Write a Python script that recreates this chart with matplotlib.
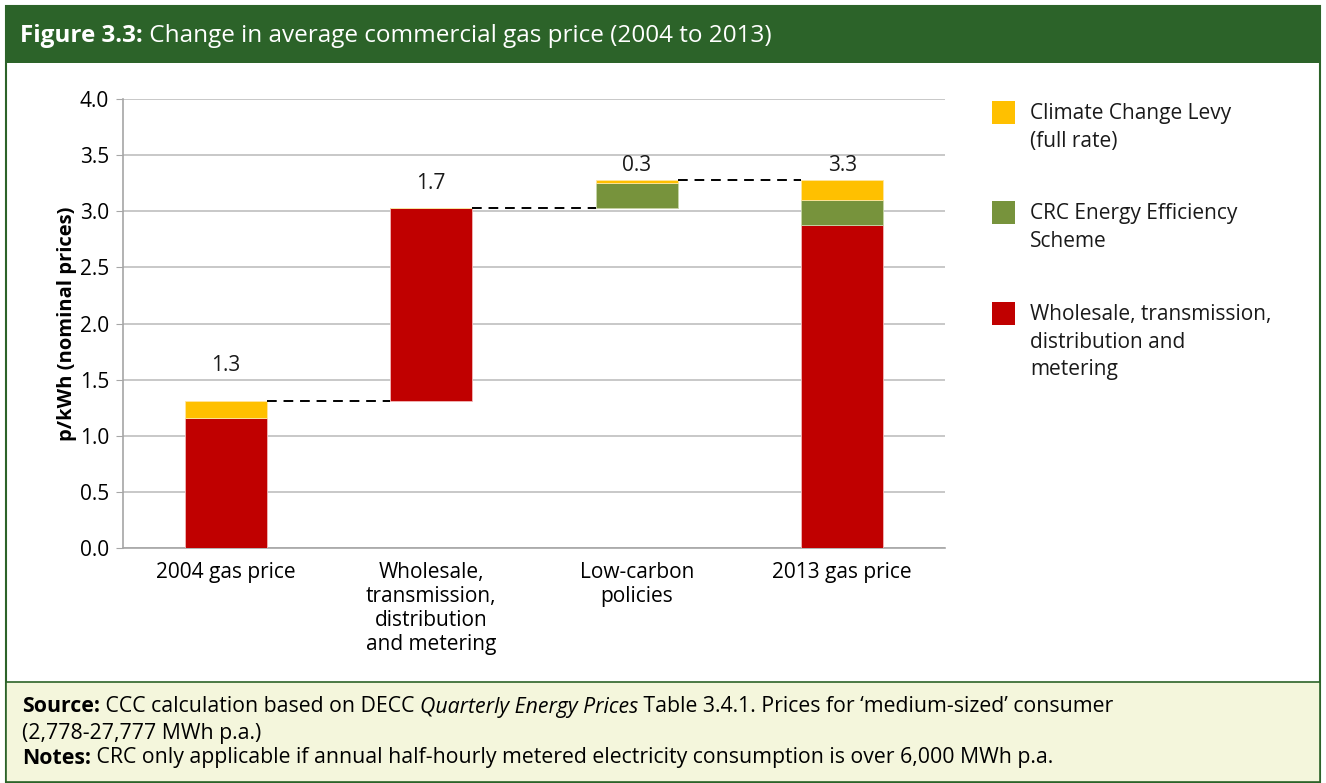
import matplotlib
matplotlib.use('Agg')
from matplotlib import pyplot as plt
from matplotlib.patches import Rectangle
import numpy as np

plt.rcParams['font.family'] = ['Open Sans', 'DejaVu Sans']

#======+
# Data |
#======+
categories = ['2004 gas price', 'Wholesale,\ntransmission,\ndistribution\nand metering',
              'Low-carbon\npolicies', '2013 gas price']
base = [0.0, 1.31, 3.03, 0.0]          # invisible offset of each waterfall bar
wholesale = [1.16, 1.72, 0.0, 2.88]
crc = [0.0, 0.0, 0.22, 0.22]
ccl = [0.15, 0.0, 0.03, 0.18]
bar_labels = ['1.3', '1.7', '0.3', '3.3']
label_y = [1.63, 3.25, 3.41, 3.41]     # where the value labels sit in the original
legend_names = ['Climate Change Levy\n(full rate)', 'CRC Energy Efficiency\nScheme',
                'Wholesale, transmission,\ndistribution and\nmetering']

RED, GREEN, YELLOW = '#c00000', '#77933c', '#ffc000'
HEAD_GREEN = '#2c6329'

W, H = 1326, 783
fig = plt.figure(figsize=(W / 100, H / 100), dpi=100)

def fx(px):
    return px / W

def fy(py):
    return 1 - py / H

#==================+
# Frame and bands  |
#==================+
fig.patches.append(Rectangle((fx(6), fy(782)), fx(1320) - fx(6), fy(6) - fy(782),
                             transform=fig.transFigure, facecolor='white',
                             edgecolor=HEAD_GREEN, lw=1.5, zorder=-2))
fig.patches.append(Rectangle((fx(6), fy(63)), fx(1320) - fx(6), fy(6) - fy(63),
                             transform=fig.transFigure, facecolor=HEAD_GREEN,
                             edgecolor='none', zorder=-1))
fig.patches.append(Rectangle((fx(6), fy(782)), fx(1320) - fx(6), fy(682) - fy(782),
                             transform=fig.transFigure, facecolor='#f4f6dc',
                             edgecolor=HEAD_GREEN, lw=1.2, zorder=-1))

renderer = fig.canvas.get_renderer()

def rich_line(x, y, parts, size, color):
    # parts: list of (text, weight, style)
    for txt, weight, style in parts:
        t = fig.text(x, y, txt, fontsize=size, color=color, fontweight=weight,
                     fontstyle=style, ha='left', va='center', zorder=3)
        bb = t.get_window_extent(renderer=renderer)
        x += bb.width / W

rich_line(fx(20), fy(36), [('Figure 3.3:', 'bold', 'normal'),
                           (' Change in average commercial gas price (2004 to 2013)', 'normal', 'normal')],
          17.5, 'white')

rich_line(fx(22), fy(707), [('Source:', 'bold', 'normal'),
                            (' CCC calculation based on DECC ', 'normal', 'normal'),
                            ('Quarterly Energy Prices', 'normal', 'italic'),
                            (' Table 3.4.1. Prices for \u2018medium-sized\u2019 consumer', 'normal', 'normal')],
          15.3, 'black')
rich_line(fx(22), fy(733), [('(2,778-27,777 MWh p.a.)', 'normal', 'normal')], 15.3, 'black')
rich_line(fx(22), fy(758), [('Notes:', 'bold', 'normal'),
                            (' CRC only applicable if annual half-hourly metered electricity consumption is over 6,000 MWh p.a.', 'normal', 'normal')],
          15.3, 'black')

#================+
# Graph Plotting |
#================+
ax = fig.add_axes([fx(123), fy(548), fx(945) - fx(123), fy(99) - fy(548)])
ax.set_zorder(2)
ax.patch.set_alpha(0)
x = np.arange(len(categories))
bw = 0.4
FS = 15

b1 = np.array(base)
b2 = b1 + np.array(wholesale)
b3 = b2 + np.array(crc)
ax.bar(x, wholesale, bw, bottom=b1, color=RED, zorder=3, edgecolor='#f2b8b8', lw=0.6)
ax.bar(x, crc, bw, bottom=b2, color=GREEN, zorder=3, edgecolor='#c8d6a8', lw=0.6)
ax.bar(x, ccl, bw, bottom=b3, color=YELLOW, zorder=3, edgecolor='#ffe6a0', lw=0.6)
tops = b3 + np.array(ccl)

# connector lines between bars
for i in range(len(categories) - 1):
    ax.plot([x[i] + bw / 2, x[i + 1] - bw / 2], [tops[i], tops[i]], color='black',
            ls=(0, (5, 3.5)), lw=1.4, zorder=4)

for i, lab in enumerate(bar_labels):
    ax.text(x[i], label_y[i], lab, ha='center', va='center', fontsize=FS, color='#1a1a1a')

ax.set_xlim(-0.5, 3.5)
ax.set_ylim(0, 4.0)
ax.set_yticks(np.arange(0, 4.01, 0.5))
ax.set_yticklabels(['%.1f' % v for v in np.arange(0, 4.01, 0.5)], fontsize=FS)
ax.set_xticks(x)
ax.set_xticklabels(categories, fontsize=FS, linespacing=1.2)
ax.tick_params(axis='x', length=0, pad=10)
ax.tick_params(axis='y', length=5, color='#a6a6a6', pad=5)
ax.grid(axis='y', color='#bfbfbf', lw=1.2, zorder=0)
for s in ['top', 'right']:
    ax.spines[s].set_visible(False)
ax.spines['left'].set_color('#a6a6a6')
ax.spines['bottom'].set_color('#a6a6a6')
ax.spines['left'].set_linewidth(1.2)
ax.spines['bottom'].set_linewidth(1.2)
ax.set_ylabel('p/kWh (nominal prices)', fontweight='bold', fontsize=14.5, labelpad=2)

# legend drawn as squares + text
leg_colors = [YELLOW, GREEN, RED]
leg_y = [113, 213, 314]
for c, yy, name in zip(leg_colors, leg_y, legend_names):
    fig.patches.append(Rectangle((fx(992), fy(yy + 11)), fx(23), fy(0) - fy(23),
                                 transform=fig.transFigure, facecolor=c, edgecolor='none', zorder=3))
    fig.text(fx(1030), fy(yy - 10), name, fontsize=15, ha='left', va='top',
             linespacing=1.42, color='#1a1a1a')

plt.savefig('out.png', dpi=100)
